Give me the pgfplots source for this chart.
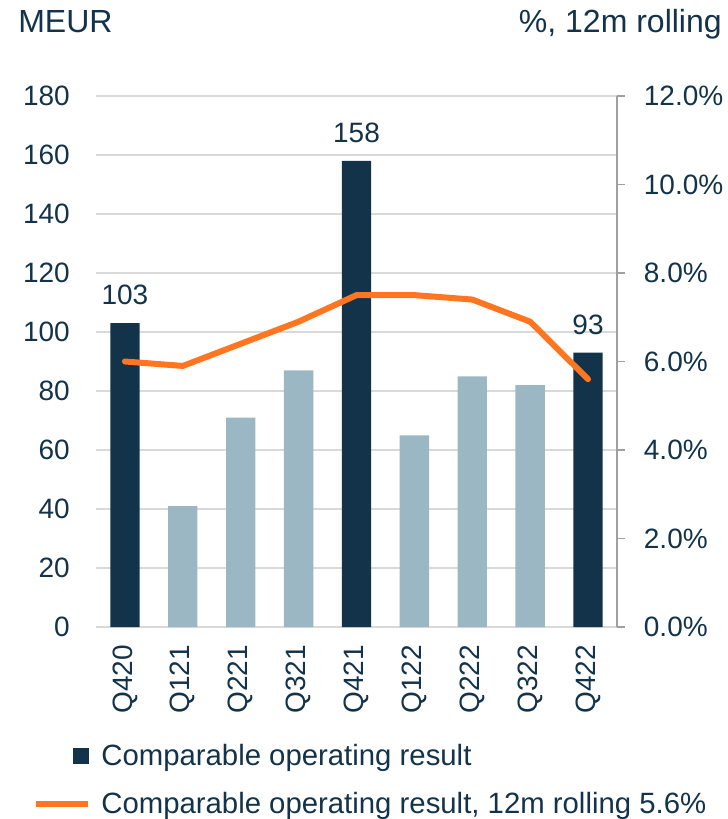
\documentclass[border=0pt]{standalone}
\usepackage{fontspec}
\setmainfont{Liberation Sans}
\usepackage{pgfplots}
\pgfplotsset{compat=1.18}

\definecolor{navy}{RGB}{18,51,74}
\definecolor{lightbar}{RGB}{155,183,195}
\definecolor{orng}{RGB}{255,117,32}
\definecolor{gridc}{RGB}{217,217,217}
\definecolor{axc}{RGB}{160,160,160}
\newcommand\tickfont{\fontsize{21}{25}\selectfont}

\begin{document}
\begin{tikzpicture}[font=\tickfont, text=navy]
\useasboundingbox (-72pt,-144pt) rectangle (474pt,470.25pt);
% bars, left axis
\begin{axis}[
    at={(0pt,0pt)}, anchor=south west,
    scale only axis, width=390.75pt, height=398.25pt,
    xmin=-0.5, xmax=8.5, ymin=0, ymax=180,
    xtick={0,...,8},
    xticklabels={Q420,Q121,Q221,Q321,Q421,Q122,Q222,Q322,Q422},
    ytick={0,20,...,180},
    axis line style={draw=none},
    major tick length=0pt,
    ymajorgrids, grid style={gridc, line width=0.8pt},
    tick label style={font=\tickfont, text=navy, inner sep=0pt},
    yticklabel style={xshift=-19.5pt},
    xticklabel style={yshift=-13.5pt, rotate=90, anchor=east},
    /pgf/number format/assume math mode=true,
    ybar, bar width=22pt,
]
\addplot[fill=navy, draw=none, bar shift=0pt,
    nodes near coords,
    every node near coord/.append style={font=\tickfont, text=navy, inner sep=0pt, yshift=13.5pt}]
    coordinates {(0,103) (4,158) (8,93)};
\addplot[fill=lightbar, draw=none, bar shift=0pt]
    coordinates {(1,41) (2,71) (3,87) (5,65) (6,85) (7,82)};
\end{axis}
% rolling margin, right axis
\begin{axis}[
    at={(0pt,0pt)}, anchor=south west,
    scale only axis, width=390.75pt, height=398.25pt,
    xmin=-0.5, xmax=8.5, ymin=0, ymax=12,
    axis x line=none, axis y line*=right, xtick=\empty,
    y axis line style={axc, line width=0.8pt},
    ytick={0,2,...,12},
    yticklabels={0.0\%,2.0\%,4.0\%,6.0\%,8.0\%,10.0\%,12.0\%},
    tick align=outside, major tick length=6pt,
    tick style={axc, line width=0.8pt},
    yticklabel style={font=\tickfont, text=navy, inner sep=0pt, xshift=14pt},
    legend cell align=left,
    legend style={at={(axis description cs:-0.1284,-0.2156)}, anchor=north west,
        draw=none, fill=none, font=\fontsize{22}{26}\selectfont, text=navy,
        row sep=18.5pt, nodes={inner sep=0pt},
        /tikz/every odd column/.append style={column sep=7.5pt}},
]
\addlegendimage{legend image code/.code={\fill[navy] (27.75pt,-5.6pt) rectangle (39pt,5.6pt);}}
\addlegendentry{Comparable operating result}
\addplot[orng, line width=4.5pt, line join=round, line cap=round,
    legend image code/.code={\draw[orng, line width=4.5pt, line cap=butt] (0pt,0pt) -- (39pt,0pt);}]
    coordinates {(0,6.0) (1,5.9) (2,6.4) (3,6.9) (4,7.5) (5,7.5) (6,7.4) (7,6.9) (8,5.6)};
\addlegendentry{Comparable operating result, 12m rolling 5.6\%}
\end{axis}
\node[anchor=base west, inner sep=0pt, font=\fontsize{24}{28}\selectfont] at (-58.5pt,446pt) {MEUR};
\node[anchor=base east, inner sep=0pt, font=\fontsize{24}{28}\selectfont] at (469.5pt,446pt) {\%, 12m rolling};
\end{tikzpicture}
\end{document}
